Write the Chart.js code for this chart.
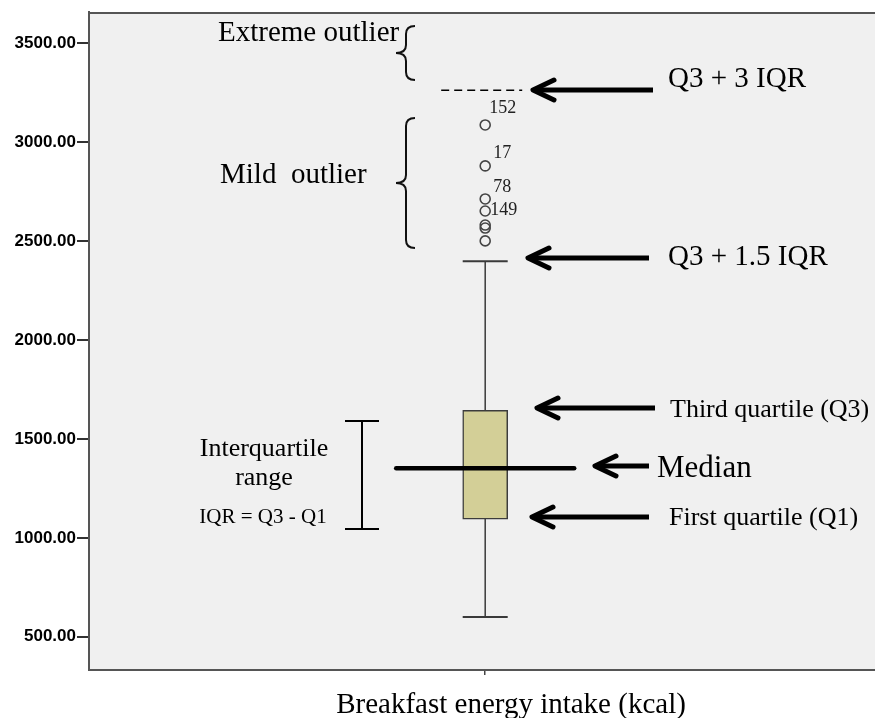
<!DOCTYPE html>
<html>
<head>
<meta charset="utf-8">
<title>Breakfast energy intake box plot</title>
<script src="https://cdn.jsdelivr.net/npm/chart.js@4.4.1/dist/chart.umd.min.js"></script>
<style>
    html, body { margin: 0; padding: 0; background: #fff; overflow: hidden; }
    #wrap { width: 888px; height: 718px; }
</style>
</head>
<body>
<div id="wrap"><canvas id="myChart"></canvas></div>
<script>
// values
let categories = ['Breakfast energy intake (kcal)'];
let boxQ1 = [1095];
let boxQ3 = [1645];
let medians = [1352];
let whiskerLow = [600];
let whiskerHigh = [2398];
let outliers = [3087, 2880, 2713, 2652, 2581, 2566, 2501];
let outlierIds = ['152', '17', '78', '149', '', '', ''];
let extremeFence = [3262];
let iqrBracket = [1045, 1591];
let yTicks = [500, 1000, 1500, 2000, 2500, 3000, 3500];

// label offsets next to the outlier circles
let idOffsets = [[4, -12], [8, -8], [8, -7], [5, 4]];

const SERIF = '"Liberation Serif", "Times New Roman", serif';

function text(ctx, str, x, y, size, align) {
    ctx.font = size + 'px ' + SERIF;
    ctx.fillStyle = '#000';
    ctx.textAlign = align || 'left';
    ctx.textBaseline = 'alphabetic';
    ctx.fillText(str, x, y);
}

function arrow(ctx, xTip, xEnd, y) {
    ctx.save();
    ctx.strokeStyle = '#000';
    ctx.lineWidth = 5;
    ctx.beginPath();
    ctx.moveTo(xEnd, y);
    ctx.lineTo(xTip + 3, y);
    ctx.stroke();
    ctx.lineCap = 'round';
    ctx.lineJoin = 'round';
    ctx.beginPath();
    ctx.moveTo(xTip + 21, y - 10);
    ctx.lineTo(xTip, y);
    ctx.lineTo(xTip + 21, y + 10);
    ctx.stroke();
    ctx.restore();
}

// '{' with its point at x
function brace(ctx, x, top, bottom) {
    let mid = (top + bottom) / 2;
    let xs = x + 10, xe = x + 19, r = 8;
    ctx.beginPath();
    ctx.moveTo(xe, top);
    ctx.quadraticCurveTo(xs, top, xs, top + r);
    ctx.lineTo(xs, mid - r);
    ctx.quadraticCurveTo(xs, mid, x, mid);
    ctx.quadraticCurveTo(xs, mid, xs, mid + r);
    ctx.lineTo(xs, bottom - r);
    ctx.quadraticCurveTo(xs, bottom, xe, bottom);
    ctx.stroke();
}

const boxPlugin = {
    id: 'boxExtras',
    beforeDraw(chart) {
        let ctx = chart.ctx, a = chart.chartArea;
        ctx.save();
        ctx.fillStyle = '#f0f0f0';
        ctx.fillRect(a.left, a.top, a.right - a.left, a.bottom - a.top);
        ctx.restore();
    },
    beforeDatasetsDraw(chart) {
        let ctx = chart.ctx, a = chart.chartArea, y = chart.scales.y;
        let bar = chart.getDatasetMeta(0).data[0];
        let cx = bar.x, half = bar.width / 2;
        ctx.save();
        // top frame
        ctx.strokeStyle = '#555';
        ctx.lineWidth = 2;
        ctx.beginPath();
        ctx.moveTo(a.left, a.top + 1);
        ctx.lineTo(a.right, a.top + 1);
        ctx.stroke();
        // whiskers
        let yHi = y.getPixelForValue(whiskerHigh[0]);
        let yLo = y.getPixelForValue(whiskerLow[0]);
        ctx.strokeStyle = '#3a3a3a';
        ctx.lineWidth = 1.5;
        ctx.beginPath();
        ctx.moveTo(cx, y.getPixelForValue(boxQ3[0]));
        ctx.lineTo(cx, yHi);
        ctx.moveTo(cx, y.getPixelForValue(boxQ1[0]));
        ctx.lineTo(cx, yLo);
        ctx.stroke();
        ctx.lineWidth = 2;
        ctx.beginPath();
        ctx.moveTo(cx - half, yHi);
        ctx.lineTo(cx + half, yHi);
        ctx.moveTo(cx - half, yLo);
        ctx.lineTo(cx + half, yLo);
        ctx.stroke();
        ctx.restore();
    },
    afterDatasetsDraw(chart) {
        let ctx = chart.ctx, y = chart.scales.y;
        let bar = chart.getDatasetMeta(0).data[0];
        let cx = bar.x;
        ctx.save();

        // median line
        ctx.strokeStyle = '#000';
        ctx.lineWidth = 4.5;
        ctx.lineCap = 'round';
        let ym = y.getPixelForValue(medians[0]);
        ctx.beginPath();
        ctx.moveTo(cx - 89, ym);
        ctx.lineTo(cx + 89, ym);
        ctx.stroke();

        // extreme fence, dashed
        ctx.lineCap = 'butt';
        ctx.lineWidth = 1.5;
        ctx.setLineDash([8, 5]);
        let yf = y.getPixelForValue(extremeFence[0]);
        ctx.beginPath();
        ctx.moveTo(cx - 44, yf);
        ctx.lineTo(cx + 37, yf);
        ctx.stroke();
        ctx.setLineDash([]);

        // interquartile bracket
        ctx.lineWidth = 2;
        let yb0 = y.getPixelForValue(iqrBracket[0]);
        let yb1 = y.getPixelForValue(iqrBracket[1]);
        ctx.beginPath();
        ctx.moveTo(362, yb1);
        ctx.lineTo(362, yb0);
        ctx.moveTo(345, yb1);
        ctx.lineTo(379, yb1);
        ctx.moveTo(345, yb0);
        ctx.lineTo(379, yb0);
        ctx.stroke();

        // braces
        ctx.strokeStyle = '#111';
        brace(ctx, 396, 26, 80);
        brace(ctx, 396, 118, 248);

        // arrows
        arrow(ctx, 533, 653, 90);
        arrow(ctx, 528, 649, 258);
        arrow(ctx, 537, 655, 408);
        arrow(ctx, 595, 649, 466);
        arrow(ctx, 532, 649, 517);

        // outlier case numbers
        let pts = chart.getDatasetMeta(1).data;
        ctx.font = '18px ' + SERIF;
        ctx.fillStyle = '#222';
        ctx.textAlign = 'left';
        ctx.textBaseline = 'alphabetic';
        outlierIds.forEach(function (id, i) {
            if (!id) return;
            ctx.fillText(id, pts[i].x + idOffsets[i][0], pts[i].y + idOffsets[i][1]);
        });

        // notes
        text(ctx, 'Extreme outlier', 218, 41, 29);
        text(ctx, 'Mild  outlier', 220, 183, 29);
        text(ctx, 'Q3 + 3 IQR', 668, 87, 29);
        text(ctx, 'Q3 + 1.5 IQR', 668, 265, 29);
        text(ctx, 'Third quartile (Q3)', 670, 417, 26);
        text(ctx, 'Median', 657, 477, 31);
        text(ctx, 'First quartile (Q1)', 669, 525, 26);
        text(ctx, 'Interquartile', 264, 456, 26, 'center');
        text(ctx, 'range', 264, 485, 26, 'center');
        text(ctx, 'IQR = Q3 - Q1', 263, 523, 21, 'center');

        // axis title
        text(ctx, categories[0], 511, 713, 29, 'center');
        ctx.restore();
    }
};

const data = {
    labels: categories,
    datasets: [
        {
            type: 'bar',
            label: 'Box',
            data: categories.map((c, i) => [boxQ1[i], boxQ3[i]]),
            backgroundColor: '#d3cf97',
            borderColor: '#3c3c3c',
            borderWidth: 1.5,
            borderSkipped: false,
            barThickness: 45
        },
        {
            type: 'line',
            label: 'Outliers',
            data: outliers.map(v => ({x: categories[0], y: v})),
            showLine: false,
            pointStyle: 'circle',
            pointRadius: 5,
            pointBorderWidth: 1.6,
            pointBorderColor: '#444',
            pointBackgroundColor: 'rgba(0,0,0,0)'
        }
    ]
};

const config = {
    type: 'bar',
    data: data,
    options: {
        responsive: true,
        maintainAspectRatio: false,
        animation: false,
        layout: { padding: { top: 12, right: 1, left: 0, bottom: 0 } },
        plugins: {
            legend: { display: false },
            tooltip: { enabled: false }
        },
        scales: {
            x: {
                type: 'category',
                offset: true,
                grid: {
                    drawOnChartArea: false,
                    drawTicks: true,
                    tickLength: 5,
                    color: '#444',
                    lineWidth: 1.5,
                    offset: false
                },
                border: { display: true, color: '#555', width: 2 },
                ticks: { display: false },
                afterFit: function (scale) { scale.height = 48; }
            },
            y: {
                min: 332,
                max: 3658,
                afterBuildTicks: function (scale) {
                    scale.ticks = yTicks.map(v => ({value: v}));
                },
                ticks: {
                    callback: v => Number(v).toFixed(2),
                    font: { family: '"Liberation Sans", Arial, sans-serif', size: 17, weight: 'bold' },
                    color: '#000',
                    padding: 1
                },
                grid: {
                    drawOnChartArea: false,
                    tickLength: 12,
                    color: '#333',
                    lineWidth: 2
                },
                border: { color: '#555', width: 2 },
                afterFit: function (scale) { scale.width = 89; }
            }
        }
    },
    plugins: [boxPlugin]
};

const myChart = new Chart(
    document.getElementById('myChart'),
    config
);
</script>
</body>
</html>
